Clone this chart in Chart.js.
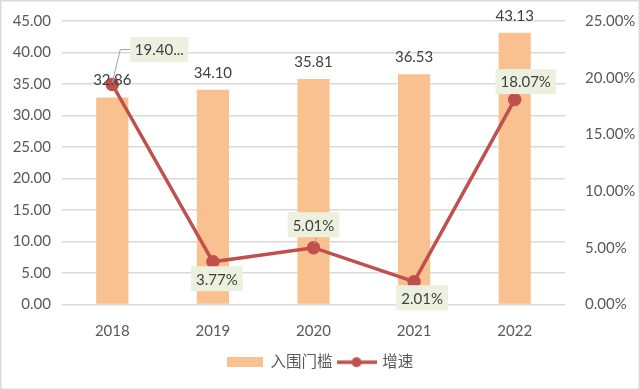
<!DOCTYPE html>
<html>
<head>
<meta charset="utf-8">
<script src="https://cdn.jsdelivr.net/npm/chart.js@4"></script>
<style>
  html, body { margin: 0; padding: 0; background: #fff; }
  #wrap { width: 640px; height: 390px; position: relative; }
</style>
</head>
<body>
<div id="wrap"><canvas id="c" width="640" height="390"></canvas></div>
<script>
const years = ['2018', '2019', '2020', '2021', '2022'];
const threshold = [32.86, 34.10, 35.81, 36.53, 43.13];
const growth = [19.40, 3.77, 5.01, 2.01, 18.07];
const leftTicks = [0, 45, 5];
const rightTicks = [0, 25, 5];

const FONT = "Lato, 'Noto Sans CJK SC', sans-serif";
const BAR = '#F9C18F';
const LINE = '#C0504D';

// where each growth label box sits, relative to its point
const growthLabelPos = [
  { dx: 47, dy: -35, w: 58, leader: true },
  { dx: 4, dy: 17 },
  { dx: 0, dy: -23, leader: true },
  { dx: 8, dy: 16 },
  { dx: 11, dy: -18 }
];

function legendImg(kind) {
  const cv = document.createElement('canvas');
  const ctx = cv.getContext('2d');
  if (kind === 'bar') {
    cv.width = 36; cv.height = 10;
    ctx.fillStyle = BAR;
    ctx.fillRect(0, 0, 36, 10);
  } else {
    cv.width = 40; cv.height = 12;
    ctx.strokeStyle = LINE;
    ctx.lineWidth = 3.5;
    ctx.beginPath(); ctx.moveTo(0, 6); ctx.lineTo(40, 6); ctx.stroke();
    ctx.fillStyle = LINE;
    ctx.beginPath(); ctx.arc(20, 6, 5, 0, Math.PI * 2); ctx.fill();
  }
  return cv;
}

const labelsPlugin = {
  id: 'labels',
  afterDatasetsDraw(chart) {
    const ctx = chart.ctx;
    ctx.save();
    ctx.font = '15px ' + FONT;
    ctx.textAlign = 'center';
    ctx.textBaseline = 'middle';

    chart.getDatasetMeta(1).data.forEach((bar, i) => {
      ctx.fillStyle = '#404040';
      ctx.fillText(threshold[i].toFixed(2), bar.x, bar.y - 17);
    });

    chart.getDatasetMeta(0).data.forEach((pt, i) => {
      const pos = growthLabelPos[i];
      let txt = growth[i].toFixed(2) + '%';
      const cx = pt.x + pos.dx, cy = pt.y + pos.dy;
      let w = ctx.measureText(txt).width + 10;
      if (pos.w) {
        w = pos.w;
        while (ctx.measureText(txt + '...').width > w - 8 && txt.length > 1) txt = txt.slice(0, -1);
        txt += '...';
      }
      const h = 25;
      if (pos.leader) {
        ctx.strokeStyle = '#A6A6A6';
        ctx.lineWidth = 1;
        ctx.beginPath();
        if (i === 0) {
          ctx.moveTo(pt.x, pt.y - 2);
          ctx.lineTo(pt.x + 8, cy);
          ctx.lineTo(cx - w / 2, cy);
        } else {
          ctx.moveTo(pt.x + 1, pt.y - 4);
          ctx.lineTo(cx + 3, cy + h / 2);
        }
        ctx.stroke();
      }
      ctx.fillStyle = '#EBF1DE';
      ctx.fillRect(cx - w / 2, cy - h / 2, w, h);
      ctx.fillStyle = '#404040';
      ctx.fillText(txt, cx, cy + 1);
    });
    ctx.restore();
  },
  afterDraw(chart) {
    const ctx = chart.ctx;
    ctx.save();
    ctx.strokeStyle = '#D9D9D9';
    ctx.lineWidth = 1.5;
    ctx.strokeRect(0.75, 0.75, chart.width - 1.5, chart.height - 1.5);
    ctx.restore();
  }
};

new Chart(document.getElementById('c'), {
  data: {
    labels: years,
    datasets: [
      {
        type: 'line',
        label: '增速',
        data: growth,
        yAxisID: 'y1',
        borderColor: LINE,
        backgroundColor: LINE,
        borderWidth: 3.5,
        pointRadius: 5,
        pointHoverRadius: 5,
        tension: 0,
        order: 0
      },
      {
        type: 'bar',
        label: '入围门槛',
        data: threshold,
        yAxisID: 'y',
        backgroundColor: BAR,
        categoryPercentage: 1,
        barPercentage: 0.32,
        order: 1
      }
    ]
  },
  options: {
    responsive: false,
    animation: false,
    layout: { padding: { top: 20, bottom: 10, left: 0, right: 0 } },
    plugins: {
      tooltip: { enabled: false },
      legend: {
        position: 'bottom',
        labels: {
          color: '#595959',
          font: { family: FONT, size: 15.5 },
          usePointStyle: true,
          pointStyleWidth: 36,
          padding: 6,
          generateLabels() {
            return [
              { text: '入围门槛', pointStyle: legendImg('bar'), fontColor: '#595959', datasetIndex: 1, lineWidth: 0 },
              { text: '增速', pointStyle: legendImg('line'), fontColor: '#595959', datasetIndex: 0, lineWidth: 0 }
            ];
          }
        }
      }
    },
    scales: {
      x: {
        grid: { display: false },
        border: { display: false },
        ticks: { color: '#595959', font: { family: FONT, size: 15 }, padding: 10 },
        afterFit(s) { s.height = 44; }
      },
      y: {
        position: 'left',
        min: leftTicks[0], max: leftTicks[1],
        grid: { color: '#D9D9D9', lineWidth: 1.5, drawTicks: false },
        border: { display: false },
        ticks: {
          stepSize: leftTicks[2], padding: 11, color: '#595959',
          font: { family: FONT, size: 15 },
          callback: v => v.toFixed(2)
        },
        afterFit(s) { s.width = 62; }
      },
      y1: {
        position: 'right',
        min: rightTicks[0], max: rightTicks[1],
        grid: { display: false },
        border: { display: false },
        ticks: {
          stepSize: rightTicks[2], padding: 12, color: '#595959',
          font: { family: FONT, size: 15 },
          callback: v => v.toFixed(2) + '%'
        },
        afterFit(s) { s.width = 75; }
      }
    }
  },
  plugins: [labelsPlugin]
});
</script>
</body>
</html>
